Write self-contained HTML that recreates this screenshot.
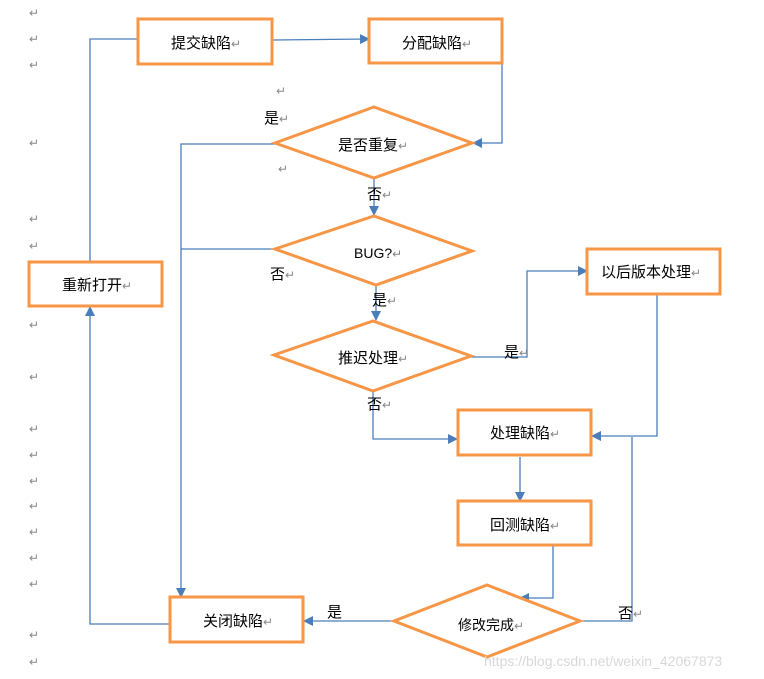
<!DOCTYPE html>
<html><head><meta charset="utf-8"><style>
html,body{margin:0;padding:0;background:#fff;}
svg{display:block;}
text{font-family:"Liberation Sans","Noto Sans CJK SC",sans-serif;}
</style></head><body>
<svg width="764" height="679" viewBox="0 0 764 679" xmlns="http://www.w3.org/2000/svg">
<defs>
<marker id="a" markerWidth="10" markerHeight="10" refX="9" refY="5" orient="auto" markerUnits="userSpaceOnUse">
<path d="M0,0 L10,5 L0,10 z" fill="#4a7ebb"/></marker>
</defs>
<g fill="none" stroke="#4a7ebb" stroke-width="1.3">
<polyline points="90,262 90,39 152,39" marker-end="url(#a)"/>
<polyline points="272,40 369,39" marker-end="url(#a)"/>
<polyline points="502,55 502,143 473,143" marker-end="url(#a)"/>
<polyline points="275,144 181,144 181,597" marker-end="url(#a)"/>
<polyline points="275,249 181,249"/>
<polyline points="374,178 374,215" marker-end="url(#a)"/>
<polyline points="376,285 376,320" marker-end="url(#a)"/>
<polyline points="471,357 527,357 527,271 587,271" marker-end="url(#a)"/>
<polyline points="373,391 373,439 457,439" marker-end="url(#a)"/>
<polyline points="657,294 657,436 592,436" marker-end="url(#a)"/>
<polyline points="520,457 520,501" marker-end="url(#a)"/>
<polyline points="553,545 553,598 520,598" marker-end="url(#a)"/>
<polyline points="580,621 632,621 632,437"/>
<polyline points="394,621 304,621" marker-end="url(#a)"/>
<polyline points="170,624 90,624 90,307" marker-end="url(#a)"/>
</g>
<g fill="#fff" stroke="#f79646" stroke-width="3">
<rect x="138" y="19" width="134" height="45"/>
<rect x="369" y="19" width="133" height="44"/>
<rect x="29" y="262" width="133" height="44"/>
<rect x="587" y="249" width="133" height="45"/>
<rect x="458" y="410" width="133" height="45"/>
<rect x="458" y="501" width="133" height="44"/>
<rect x="170" y="597" width="133" height="45"/>
<polygon points="275,143 374,107 472,143 374,178"/>
<polygon points="275,249 374,216 472,251 376,285"/>
<polygon points="274,355 373,321 471,356 373,391"/>
<polygon points="394,621 487,585 580,621 487,657"/>
</g>
<g font-size="15" fill="#000">
<text x="171" y="48">提交缺陷<tspan fill="#888" font-size="12">↵</tspan></text>
<text x="402" y="48">分配缺陷<tspan fill="#888" font-size="12">↵</tspan></text>
<text x="62" y="290">重新打开<tspan fill="#888" font-size="12">↵</tspan></text>
<text x="601" y="277">以后版本处理<tspan fill="#888" font-size="12">↵</tspan></text>
<text x="490" y="438">处理缺陷<tspan fill="#888" font-size="12">↵</tspan></text>
<text x="490" y="530">回测缺陷<tspan fill="#888" font-size="12">↵</tspan></text>
<text x="203" y="626">关闭缺陷<tspan fill="#888" font-size="12">↵</tspan></text>
<text x="338" y="150">是否重复<tspan fill="#888" font-size="12">↵</tspan></text>
<text x="354" y="258" font-size="14">BUG?<tspan fill="#888" font-size="12">↵</tspan></text>
<text x="338" y="363">推迟处理<tspan fill="#888" font-size="12">↵</tspan></text>
<text x="458" y="630" font-size="14">修改完成<tspan fill="#888" font-size="12">↵</tspan></text>
<text x="264" y="123">是<tspan fill="#888" font-size="12">↵</tspan></text>
<text x="367" y="199">否<tspan fill="#888" font-size="12">↵</tspan></text>
<text x="270" y="279">否<tspan fill="#888" font-size="12">↵</tspan></text>
<text x="372" y="305">是<tspan fill="#888" font-size="12">↵</tspan></text>
<text x="504" y="357">是<tspan fill="#888" font-size="12">↵</tspan></text>
<text x="367" y="409">否<tspan fill="#888" font-size="12">↵</tspan></text>
<text x="618" y="618">否<tspan fill="#888" font-size="12">↵</tspan></text>
<text x="327" y="617">是</text>
</g>
<g font-size="12" fill="#888">
<text x="29" y="17">↵</text><text x="29" y="43">↵</text><text x="29" y="69">↵</text>
<text x="29" y="147">↵</text><text x="29" y="223">↵</text><text x="29" y="250">↵</text>
<text x="29" y="329">↵</text><text x="29" y="381">↵</text><text x="29" y="433">↵</text>
<text x="29" y="459">↵</text><text x="29" y="485">↵</text><text x="29" y="510">↵</text>
<text x="29" y="536">↵</text><text x="29" y="562">↵</text><text x="29" y="588">↵</text>
<text x="29" y="639">↵</text><text x="29" y="666">↵</text>
<text x="276" y="95">↵</text><text x="278" y="173">↵</text>
</g>
<text x="484" y="666" font-size="14" fill="#d8d8d8">https://blog.csdn.net/weixin_42067873</text>
</svg>
</body></html>
